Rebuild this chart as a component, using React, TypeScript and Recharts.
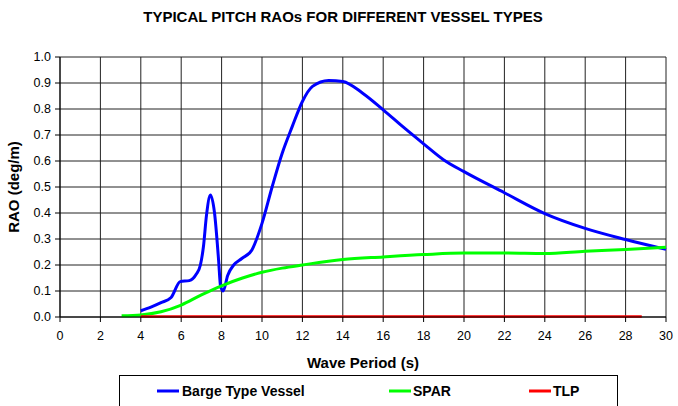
import { LineChart, Line, XAxis, YAxis, CartesianGrid } from "recharts";

const seriesNames = ["Barge Type Vessel", "SPAR", "TLP"];
const seriesColors = ["#0000FF", "#00FF00", "#FF0000"];

const bargePeriod = [4, 4.5, 5, 5.5, 5.95, 6.4, 6.75, 6.95, 7.1, 7.25, 7.45, 7.65, 7.85, 7.95, 8.08, 8.3, 8.6, 9, 9.5, 10, 10.5, 11, 11.5, 12, 12.5, 13.3, 14, 15, 16, 17, 18, 19, 20, 22, 24, 26, 28, 30];
const bargeRao = [0.024, 0.038, 0.055, 0.075, 0.136, 0.14, 0.165, 0.2, 0.27, 0.39, 0.469, 0.4, 0.22, 0.117, 0.1, 0.16, 0.2, 0.225, 0.258, 0.36, 0.5, 0.63, 0.733, 0.829, 0.887, 0.91, 0.906, 0.86, 0.797, 0.73, 0.666, 0.604, 0.559, 0.478, 0.398, 0.341, 0.298, 0.26];

const sparPeriod = [3.05, 4, 5, 6, 7, 8, 9, 10, 11, 12, 14, 16, 18, 20, 22, 24, 26, 28, 30];
const sparRao = [0.005, 0.008, 0.02, 0.046, 0.085, 0.12, 0.149, 0.172, 0.188, 0.2, 0.221, 0.231, 0.24, 0.246, 0.246, 0.244, 0.253, 0.26, 0.268];

const tlpPeriod = [4, 8, 12, 16, 20, 24, 28.8];
const tlpRao = [0.002, 0.002, 0.002, 0.002, 0.002, 0.002, 0.002];

const xTicks = [0, 2, 4, 6, 8, 10, 12, 14, 16, 18, 20, 22, 24, 26, 28, 30];
const yTicks = [0, 0.1, 0.2, 0.3, 0.4, 0.5, 0.6, 0.7, 0.8, 0.9, 1.0];

const toRows = (xs: number[], ys: number[]) => xs.map((x, i) => ({ x, y: ys[i] }));

const barge = toRows(bargePeriod, bargeRao);
const spar = toRows(sparPeriod, sparRao);
const tlp = toRows(tlpPeriod, tlpRao);

const font = "'Liberation Sans', Arial, sans-serif";

// legend swatch/text positions along the box
const legendItems = [
  { lineX: 157, textX: 182 },
  { lineX: 389, textX: 413 },
  { lineX: 529, textX: 553 },
];

export default function App() {
  return (
    <div style={{ position: "relative", width: 678, height: 406, background: "#fff", fontFamily: font }}>
      <style>{"body{margin:0}"}</style>
      <LineChart
        width={678}
        height={406}
        margin={{ top: 57, right: 12, left: 0, bottom: 0 }}
      >
        <CartesianGrid stroke="#222" strokeWidth={1} />
        <XAxis
          type="number"
          dataKey="x"
          domain={[0, 30]}
          ticks={xTicks}
          height={89}
          tickSize={5}
          tickMargin={9}
          stroke="#000"
          tick={{ fill: "#000", fontSize: 12.5, fontFamily: font }}
          allowDuplicatedCategory={false}
        />
        <YAxis
          type="number"
          domain={[0, 1]}
          ticks={yTicks}
          width={60}
          tickSize={5}
          tickMargin={4}
          stroke="#000"
          tickFormatter={(v: number) => v.toFixed(1)}
          tick={{ fill: "#000", fontSize: 12.5, fontFamily: font }}
        />
        <Line data={barge} dataKey="y" name={seriesNames[0]} type="monotone" stroke={seriesColors[0]} strokeWidth={3} dot={false} isAnimationActive={false} />
        <Line data={spar} dataKey="y" name={seriesNames[1]} type="monotone" stroke={seriesColors[1]} strokeWidth={3} dot={false} isAnimationActive={false} />
        <Line data={tlp} dataKey="y" name={seriesNames[2]} type="monotone" stroke={seriesColors[2]} strokeWidth={2.5} dot={false} isAnimationActive={false} />
      </LineChart>
      <svg
        width={678}
        height={406}
        style={{ position: "absolute", left: 0, top: 0, pointerEvents: "none" }}
        fontFamily={font}
      >
        <text x={343} y={21.5} textAnchor="middle" fontSize={15} fontWeight="bold" fill="#000">
          TYPICAL PITCH RAOs FOR DIFFERENT VESSEL TYPES
        </text>
        <text x={363} y={367.5} textAnchor="middle" fontSize={15} fontWeight="bold" fill="#000">
          Wave Period (s)
        </text>
        <text
          x={0}
          y={0}
          transform="translate(18.5,187) rotate(-90)"
          textAnchor="middle"
          fontSize={15}
          fontWeight="bold"
          fill="#000"
        >
          RAO (deg/m)
        </text>
        <rect x={119.5} y={375.5} width={498} height={40} fill="none" stroke="#000" strokeWidth={1} />
        {legendItems.map((it, i) => (
          <g key={seriesNames[i]}>
            <line x1={it.lineX} x2={it.lineX + 22} y1={391} y2={391} stroke={seriesColors[i]} strokeWidth={3} />
            <text x={it.textX} y={396} fontSize={14} fontWeight="bold" fill="#000">
              {seriesNames[i]}
            </text>
          </g>
        ))}
      </svg>
    </div>
  );
}
